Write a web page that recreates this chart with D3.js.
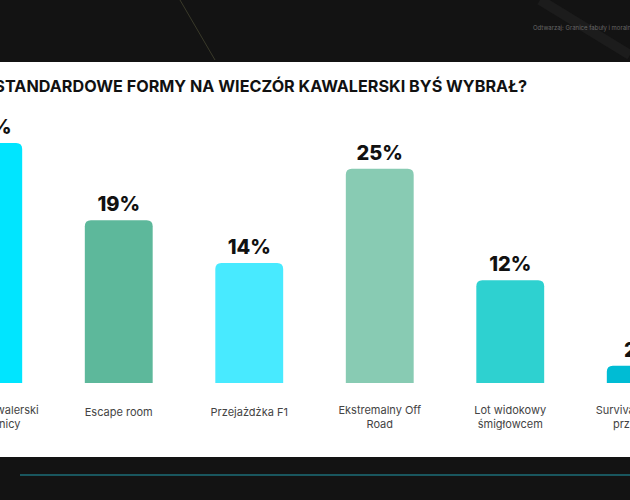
<!DOCTYPE html>
<html><head><meta charset="utf-8">
<script src="https://cdn.jsdelivr.net/npm/d3@7"></script>
<style>body{margin:0;background:#111;}svg{display:block;font-family:Inter,'Noto Sans',sans-serif;}</style>
</head><body><div id="chart"></div>
<script>
var categories = [["Wieczór kawalerski","w kamienicy"],["Escape room"],["Przejażdżka F1"],["Ekstremalny Off","Road"],["Lot widokowy","śmigłowcem"],["Survival w dzikiej","przyrodzie"]];
var values = [28, 19, 14, 25, 12, 2];
var colors = ["#00E5FF","#5DB89B","#48EAFF","#88CBB3","#2ED1D0","#00BCD4"];

var W = 630, H = 500;
var svg = d3.select("#chart").append("svg").attr("width", W).attr("height", H);

svg.append("rect").attr("width", W).attr("height", H).attr("fill", "#131313");
// faint diagonal strokes
svg.append("line").attr("x1",180).attr("y1",0).attr("x2",215).attr("y2",60).style("stroke","#3a3a2a").style("stroke-width",1);
svg.append("line").attr("x1",540).attr("y1",0).attr("x2",630).attr("y2",55).style("stroke","#1c1c1c").style("stroke-width",10);
svg.append("text").attr("x",533).attr("y",30).attr("font-size",6).attr("fill","#666").text("Odtwarzaj: Granice fabuły i moralności");

svg.append("rect").attr("x",0).attr("y",62).attr("width",W).attr("height",395).attr("fill","#fff");
svg.append("line").attr("x1",20).attr("x2",W).attr("y1",475).attr("y2",475).style("stroke","#1d6e78").style("stroke-width",1.5);

svg.append("text").attr("x",527).attr("y",92).attr("text-anchor","end").attr("font-size",16.2).attr("font-weight",700).attr("fill","#111")
	.text("KTÓRE NIESTANDARDOWE FORMY NA WIECZÓR KAWALERSKI BYŚ WYBRAŁ?");

var x = d3.scaleBand().domain(d3.range(values.length)).range([-77, 706]).paddingInner(0.48).paddingOuter(0.24);
var y = d3.scaleLinear().domain([0, 28]).range([383, 143]);

var g = svg.selectAll(".bar").data(values).enter().append("g");
g.append("path").attr("fill", function(d,i){return colors[i];})
	.attr("d", function(d,i){
		var x0 = x(i), w = x.bandwidth(), t = y(d), b = y(0), r = Math.min(6,(b-t)/2);
		return "M"+x0+","+b+"V"+(t+r)+"Q"+x0+","+t+" "+(x0+r)+","+t+"H"+(x0+w-r)+"Q"+(x0+w)+","+t+" "+(x0+w)+","+(t+r)+"V"+b+"Z";
	});
g.append("text").attr("x", function(d,i){return x(i)+x.bandwidth()/2;}).attr("y", function(d){return y(d)-9;})
	.attr("text-anchor","middle").attr("font-size",20).attr("font-weight",800).attr("fill","#111")
	.text(function(d){return d+"%";});
g.append("text").attr("text-anchor","middle").attr("font-size",11).attr("fill","#444")
	.each(function(d,i){
		var lines = categories[i], cx = x(i)+x.bandwidth()/2, y0 = lines.length>1 ? 414 : 416;
		var t = d3.select(this);
		lines.forEach(function(l,k){ t.append("tspan").attr("x",cx).attr("y",y0+k*13.5).text(l); });
	});
</script></body></html>
